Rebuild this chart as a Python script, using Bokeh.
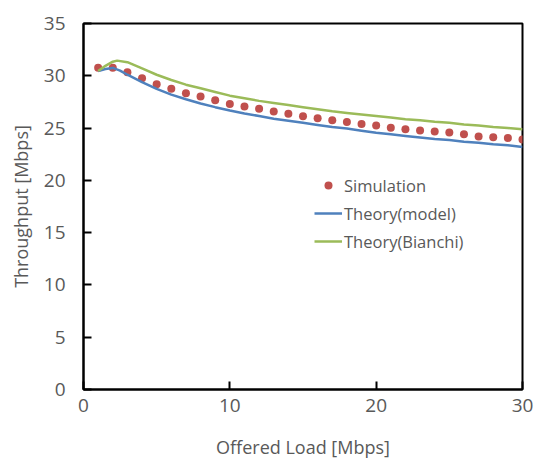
from bokeh.plotting import figure
from bokeh.models import Range1d, FixedTicker, Legend, LegendItem
from bokeh.embed import file_html
from bokeh.resources import INLINE

# Data
sim_x = list(range(1, 31))
sim_y = [30.76, 30.76, 30.34, 29.76, 29.19, 28.75, 28.33, 28.01, 27.66, 27.31,
         27.06, 26.84, 26.58, 26.36, 26.13, 25.94, 25.75, 25.59, 25.40, 25.24,
         25.02, 24.89, 24.76, 24.67, 24.57, 24.41, 24.19, 24.12, 24.06, 23.90]

model_x = [1, 1.5, 2, 2.5, 3, 4, 5, 6, 7, 8, 9, 10, 11, 12, 13, 14, 15, 16, 17, 18,
           19, 20, 21, 22, 23, 24, 25, 26, 27, 28, 29, 30]
model_y = [30.45, 30.65, 30.75, 30.5, 30.1, 29.4, 28.75, 28.2, 27.75, 27.35, 27.0,
           26.68, 26.4, 26.15, 25.9, 25.7, 25.5, 25.3, 25.1, 24.95, 24.75, 24.55,
           24.4, 24.25, 24.1, 23.95, 23.85, 23.7, 23.6, 23.45, 23.35, 23.2]

bianchi_x = [1, 1.5, 2, 2.3, 3, 4, 5, 6, 7, 8, 9, 10, 11, 12, 13, 14, 15, 16, 17, 18,
             19, 20, 21, 22, 23, 24, 25, 26, 27, 28, 29, 30]
bianchi_y = [30.45, 30.95, 31.35, 31.45, 31.3, 30.7, 30.1, 29.6, 29.15, 28.8, 28.45,
             28.1, 27.85, 27.6, 27.4, 27.2, 27.0, 26.8, 26.6, 26.45, 26.3, 26.15,
             26.0, 25.85, 25.75, 25.6, 25.5, 25.35, 25.25, 25.1, 25.0, 24.88]

x_ticks = [0, 10, 20, 30]
y_ticks = [0, 5, 10, 15, 20, 25, 30, 35]

FONT = "Open Sans"
GRAY = "#595959"

p = figure(width=534, height=462, output_backend="svg", toolbar_location=None,
           x_range=Range1d(0, 30), y_range=Range1d(0, 35),
           min_border_left=83, min_border_right=12, min_border_top=23,
           min_border_bottom=73)

p.xgrid.visible = False
p.ygrid.visible = False
p.outline_line_color = "black"
p.outline_line_width = 2
p.outline_line_alpha = 1

r_sim = p.scatter(sim_x, sim_y, size=8, color="#C0504D", line_color=None)
r_model = p.line(model_x, model_y, line_color="#4F81BD", line_width=2.5)
r_bianchi = p.line(bianchi_x, bianchi_y, line_color="#9BBB59", line_width=2.5)

for ax, ticks in ((p.xaxis[0], x_ticks), (p.yaxis[0], y_ticks)):
    ax.ticker = FixedTicker(ticks=ticks)
    ax.axis_line_color = "black"
    ax.axis_line_width = 2
    ax.major_tick_line_color = "black"
    ax.major_tick_line_width = 2
    ax.major_tick_in = 8
    ax.major_tick_out = 0
    ax.minor_tick_line_color = None
    ax.major_label_text_font = FONT
    ax.major_label_text_font_size = "19px"
    ax.major_label_text_color = GRAY
    ax.axis_label_text_font = FONT
    ax.axis_label_text_font_size = "18px"
    ax.axis_label_text_color = GRAY
    ax.axis_label_text_font_style = "normal"

p.xaxis.axis_label = "Offered Load [Mbps]"
p.yaxis.axis_label = "Throughput [Mbps]"
p.xaxis.major_label_standoff = 9
p.yaxis.major_label_standoff = 18
p.xaxis.axis_label_standoff = 20
p.yaxis.axis_label_standoff = 8

legend = Legend(items=[
    LegendItem(label="Simulation", renderers=[r_sim]),
    LegendItem(label="Theory(model)", renderers=[r_model]),
    LegendItem(label="Theory(Bianchi)", renderers=[r_bianchi]),
], location=(231, 134))
legend.border_line_color = None
legend.background_fill_alpha = 0
legend.label_text_font = FONT
legend.label_text_font_size = "16.5px"
legend.label_text_color = GRAY
legend.glyph_width = 28
legend.label_height = 28
legend.glyph_height = 20
legend.spacing = 0
legend.padding = 0
legend.margin = 0
legend.label_standoff = 2
p.add_layout(legend)

open("out.html", "w").write(file_html(p, INLINE))
